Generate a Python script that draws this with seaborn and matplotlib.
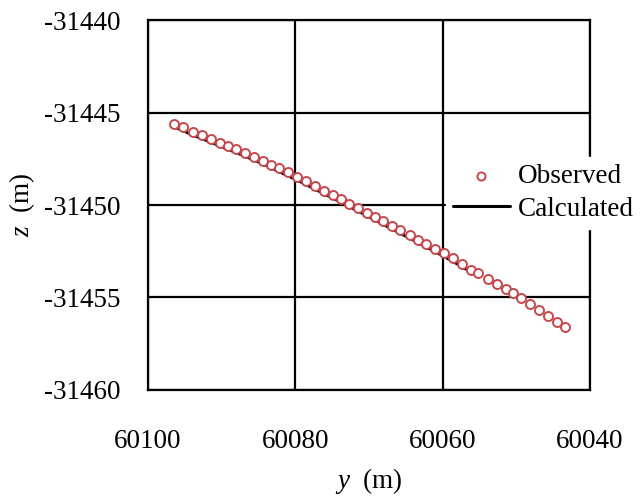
import numpy as np
import pandas as pd
import seaborn as sns
import matplotlib.pyplot as plt

# observed points (y, z)
obs_y = [60096.5, 60095.3, 60093.9, 60092.7, 60091.5, 60090.2, 60089.2, 60088.0,
         60086.8, 60085.6, 60084.4, 60083.3, 60082.2, 60081.0, 60079.8, 60078.6,
         60077.3, 60076.1, 60074.9, 60073.8, 60072.7, 60071.5, 60070.3, 60069.2,
         60068.1, 60066.9, 60065.8, 60064.5, 60063.3, 60062.2, 60061.0, 60059.8,
         60058.6, 60057.4, 60056.1, 60055.2, 60053.8, 60052.6, 60051.4, 60050.4,
         60049.4, 60048.1, 60046.9, 60045.7, 60044.5, 60043.4]
obs_z = [-31445.62, -31445.81, -31446.03, -31446.23, -31446.42, -31446.63, -31446.79, -31446.99,
         -31447.18, -31447.39, -31447.61, -31447.82, -31448.02, -31448.24, -31448.47, -31448.71,
         -31448.98, -31449.23, -31449.46, -31449.69, -31449.92, -31450.18, -31450.42, -31450.66,
         -31450.89, -31451.14, -31451.37, -31451.63, -31451.89, -31452.13, -31452.36, -31452.62,
         -31452.89, -31453.17, -31453.49, -31453.69, -31454.01, -31454.29, -31454.56, -31454.78,
         -31455.05, -31455.37, -31455.69, -31456.02, -31456.32, -31456.61]

# calculated trajectory (stops earlier than the observations), sits just under the circles
calc_y = [60096.0, 60093.9, 60091.5, 60089.2, 60086.8, 60084.4, 60082.2, 60079.8,
          60077.3, 60074.9, 60072.7, 60070.3, 60068.1, 60065.8, 60063.3, 60061.0,
          60058.6, 60056.1, 60055.2]
calc_z = [-31445.85, -31446.22, -31446.60, -31446.98, -31447.36, -31447.78, -31448.20, -31448.64,
          -31449.15, -31449.63, -31450.08, -31450.57, -31451.04, -31451.52, -31452.04, -31452.52,
          -31453.05, -31453.64, -31453.84]

obs = pd.DataFrame({"y": obs_y, "z": obs_z})
calc = pd.DataFrame({"y": calc_y, "z": calc_z})

sns.set_style("white")
plt.rcParams["font.family"] = ["Liberation Serif", "DejaVu Serif"]
plt.rcParams["mathtext.fontset"] = "custom"
plt.rcParams["mathtext.it"] = "Liberation Serif:italic"
plt.rcParams["mathtext.rm"] = "Liberation Serif"
plt.rcParams["text.color"] = "black"
plt.rcParams["axes.labelcolor"] = "black"
fs = 19.5

fig = plt.figure(figsize=(6.43, 4.98), dpi=100)
ax = fig.add_axes([0.2302, 0.2169, 0.6874, 0.7429])

sns.lineplot(data=calc, x="y", y="z", sort=False, color="black", lw=2.2,
             ax=ax, label="Calculated", zorder=2)
sns.scatterplot(data=obs, x="y", y="z", marker="o", s=42, facecolor="white",
                edgecolor="#c8474b", linewidth=1.4, ax=ax, label="Observed", zorder=3)

ax.set_xlim(60100, 60040)
ax.set_ylim(-31460, -31440)
ax.set_xticks([60100, 60080, 60060, 60040])
ax.set_yticks([-31440, -31445, -31450, -31455, -31460])
ax.set_xticklabels(["60100", "60080", "60060", "60040"])
ax.set_yticklabels(["-31440", "-31445", "-31450", "-31455", "-31460"])
ax.tick_params(axis="both", length=0, labelsize=fs, colors="black")
ax.tick_params(axis="x", pad=28)
ax.tick_params(axis="y", pad=20)
ax.grid(True, color="black", lw=1.6)
ax.set_axisbelow(True)
for s in ax.spines.values():
    s.set_color("black")
    s.set_linewidth(1.6)

ax.set_xlabel(r"$y$  (m)", fontsize=fs, labelpad=9)
ax.set_ylabel(r"$z$  (m)", fontsize=fs, labelpad=5)

h, l = ax.get_legend_handles_labels()
order = [l.index("Observed"), l.index("Calculated")]
leg = ax.legend([h[i] for i in order], [l[i] for i in order], loc="upper left",
                bbox_to_anchor=(0.674, 0.63), fontsize=fs, frameon=True,
                facecolor="white", edgecolor="white", framealpha=1, fancybox=False,
                borderaxespad=0, borderpad=0.25, handlelength=2.1,
                handletextpad=0.3, labelspacing=0.3, markerscale=0.9)

fig.savefig("out.png", dpi=100)
